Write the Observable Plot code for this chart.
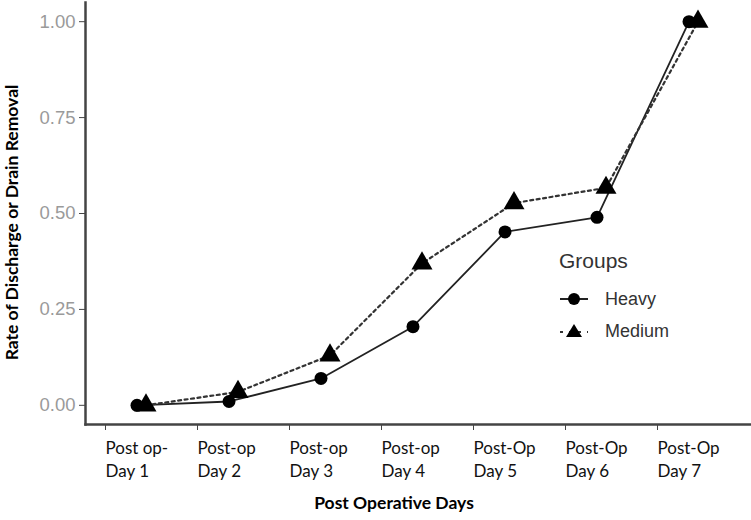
<!DOCTYPE html>
<html>
<head>
<meta charset="utf-8">
<script src="https://cdn.jsdelivr.net/npm/d3@7"></script>
<script src="https://cdn.jsdelivr.net/npm/@observablehq/plot@0.6"></script>
<style>
  html, body { margin: 0; padding: 0; background: #fff; }
  #wrap { position: relative; width: 751px; height: 520px; }
  #legend { position: absolute; left: 559px; top: 247px; font-family: "Liberation Sans", Arial, sans-serif; color: #333; }
  #legend .title { font-size: 21px; line-height: 28px; margin-bottom: 8px; }
  #legend .row { display: flex; align-items: center; height: 32px; font-size: 18px; }
  #legend svg { margin-right: 16px; }
</style>
</head>
<body>
<div id="wrap"></div>
<script>
const days = ["Post op-\nDay 1", "Post-op\nDay 2", "Post-op\nDay 3", "Post-op\nDay 4", "Post-Op\nDay 5", "Post-Op\nDay 6", "Post-Op\nDay 7"];
const heavy = [0.00, 0.01, 0.07, 0.205, 0.452, 0.49, 1.00];
const medium = [0.00, 0.035, 0.13, 0.37, 0.527, 0.567, 1.00];
const groups = ["Heavy", "Medium"];
const yTicks = [0, 0.25, 0.5, 0.75, 1.0];
const xTitle = "Post Operative Days";
const yTitle = "Rate of Discharge or Drain Removal";

const heavyData = days.map((d, i) => ({day: d, value: heavy[i], group: groups[0]}));
const mediumData = days.map((d, i) => ({day: d, value: medium[i], group: groups[1]}));

const chart = Plot.plot({
  width: 751,
  height: 520,
  marginLeft: 85,
  marginRight: 1,
  marginTop: 2,
  marginBottom: 96,
  style: {fontFamily: "Lato, sans-serif", background: "#fff"},
  x: {type: "point", domain: days, range: [140, 693], padding: 0},
  y: {domain: [-0.05, 1.05]},
  marks: [
    Plot.axisY({ticks: yTicks, tickFormat: d3.format(".2f"), fontSize: 18.5, fill: "#9a9a9a", stroke: "#444", tickSize: 6, tickPadding: 4, label: null, fontFamily: "Liberation Sans, Arial, sans-serif"}),
    Plot.axisX({tickSize: 6, tickPadding: 8, fontSize: 17, fill: "#111", stroke: "#444", label: null, textAnchor: "start", dx: -36, lineHeight: 1.32, fontFamily: "Lato, sans-serif"}),
    Plot.frame({anchor: "left", stroke: "#444", strokeWidth: 2.5}),
    Plot.frame({anchor: "bottom", stroke: "#444", strokeWidth: 2.5}),
    Plot.line(heavyData, {x: "day", y: "value", dx: -4.5, stroke: "#222", strokeWidth: 1.8}),
    Plot.line(mediumData, {x: "day", y: "value", dx: 4.5, stroke: "#333", strokeWidth: 2.2, strokeDasharray: "3,3.5"}),
    Plot.dot(heavyData, {x: "day", y: "value", dx: -4.5, r: 6.5, fill: "#000", symbol: "circle"}),
    Plot.dot(mediumData, {x: "day", y: "value", dx: 4.5, r: 7.8, fill: "#000", symbol: "triangle"}),
    Plot.text([xTitle], {text: d => d, frameAnchor: "bottom", dx: -24, dy: 84, fontSize: 17.5, fontWeight: "bold", fill: "#000"}),
    Plot.text([yTitle], {text: d => d, frameAnchor: "left", textAnchor: "middle", rotate: -90, dx: -73, dy: 9, fontSize: 17.5, fontWeight: "bold", fill: "#000"})
  ]
});

const wrap = document.getElementById("wrap");
wrap.appendChild(chart);

const legend = document.createElement("div");
legend.id = "legend";
const title = document.createElement("div");
title.className = "title";
title.textContent = "Groups";
legend.appendChild(title);
const icons = {
  Heavy: '<svg width="30" height="16"><line x1="1" y1="8" x2="29" y2="8" stroke="#222" stroke-width="2"/><circle cx="15" cy="8" r="6" fill="#000"/></svg>',
  Medium: '<svg width="30" height="16"><line x1="1" y1="9" x2="29" y2="9" stroke="#333" stroke-width="2" stroke-dasharray="3,6"/><path d="M15,1 L23,14 L7,14 Z" fill="#000"/></svg>'
};
groups.forEach(g => {
  const row = document.createElement("div");
  row.className = "row";
  row.innerHTML = icons[g] + "<span>" + g + "</span>";
  legend.appendChild(row);
});
wrap.appendChild(legend);
</script>
</body>
</html>
